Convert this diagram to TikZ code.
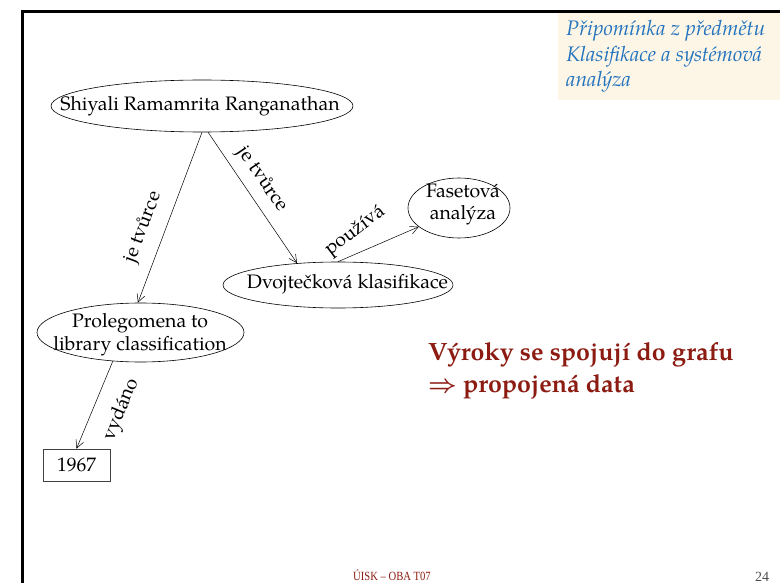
\documentclass[tikz,border=0pt]{standalone}
\usepackage{fontspec}
\setmainfont{texgyrepagella}[Extension=.otf, UprightFont=*-regular, BoldFont=*-bold, ItalicFont=*-italic, BoldItalicFont=*-bolditalic]
\newfontfamily\footfont{Liberation Serif}[FakeStretch=0.85]
\newfontfamily\pagefont{Liberation Serif}
\usetikzlibrary{shapes.geometric, arrows.meta}
\definecolor{notebg}{RGB}{253,246,230}
\definecolor{noteblue}{RGB}{35,115,190}
\definecolor{darkred}{RGB}{140,28,18}
\begin{document}
\begin{tikzpicture}[x=1pt,y=-1pt,
  ell/.style={draw, ellipse, inner sep=0pt, line width=0.6pt},
  txt/.style={inner sep=0pt, anchor=base, font=\fontsize{19.5}{23}\selectfont},
  rel/.style={line width=0.5pt, -{Straight Barb[length=8pt,width=8pt]}},
  lab/.style={font=\fontsize{19.5}{23}\selectfont, inner sep=2pt},
  note/.style={inner sep=0pt, anchor=base west, text=noteblue, font=\fontsize{21}{24}\selectfont\itshape},
  big/.style={inner sep=0pt, anchor=base west, text=darkred, font=\fontsize{25}{30}\selectfont\bfseries},
]
\useasboundingbox (0,0) rectangle (780,583);
% frame
\draw[line width=3pt] (22.3,583) -- (22.3,11.5) -- (780,11.5);
\fill[notebg] (558,13) rectangle (780,100);
\node[note] (n1) at (566,36) {Připomínka z předmětu};
\node[note] (n2) at (566,62) {Klasifikace a systémová};
\node[note] (n3) at (566,87) {analýza};

% nodes
\node[ell, minimum width=302pt, minimum height=52pt] (shi) at (202,106) {};
\node[txt] (shit) at (200,110.5) {Shiyali Ramamrita Ranganathan};

\node[ell, minimum width=230pt, minimum height=46pt] (dvo) at (338,285) {};
\node[txt] (dvot) at (347.5,288) {Dvojtečková klasifikace};

\node[ell, minimum width=102pt, minimum height=60pt] (fas) at (459,208) {};
\node[txt] (fast1) at (463,198) {Fasetová};
\node[txt] (fast2) at (463,220) {analýza};

\node[ell, minimum width=207pt, minimum height=59pt] (pro) at (140.5,332.5) {};
\node[txt] (prot1) at (140,327) {Prolegomena to};
\node[txt] (prot2) at (140,350) {library classification};

\node[draw=black!75, line width=0.6pt, minimum width=67pt, minimum height=32pt, inner sep=0pt,
      font=\fontsize{19.5}{23}\selectfont] (yr) at (76.5,465) {1967};

% connectors
\draw[rel] (shi.-90) -- node[lab, sloped, above=9pt, pos=0.6] (l1) {je tvůrce} (pro.95);
\draw[rel] (shi.-77) -- node[lab, sloped, above=6pt, pos=0.44] (l2) {je tvůrce} (dvo.152);
\draw[rel] (dvo.90) -- node[lab, pos=0.32, shift={(-8pt,19pt)}, rotate=37] (l3) {používá} (fas.205);
\draw[rel] (pro.226) -- node[lab, sloped, below=15pt, pos=0.44] (l4) {vydáno} (yr.north);

% main statement
\node[big] (b1) at (428,360) {Výroky se spojují do grafu};
\node[big] (b2) at (428,392) {{\boldmath$\Rightarrow$} propojená data};

% footer
\node[inner sep=0pt, anchor=base, text=darkred, font=\footfont\fontsize{12.5}{15}\selectfont] (ft) at (392,580) {ÚISK – OBA T07};
\node[inner sep=0pt, anchor=base west, text=black!70, font=\pagefont\fontsize{14}{16}\selectfont] (pg) at (755,581) {24};
\end{tikzpicture}
\end{document}
